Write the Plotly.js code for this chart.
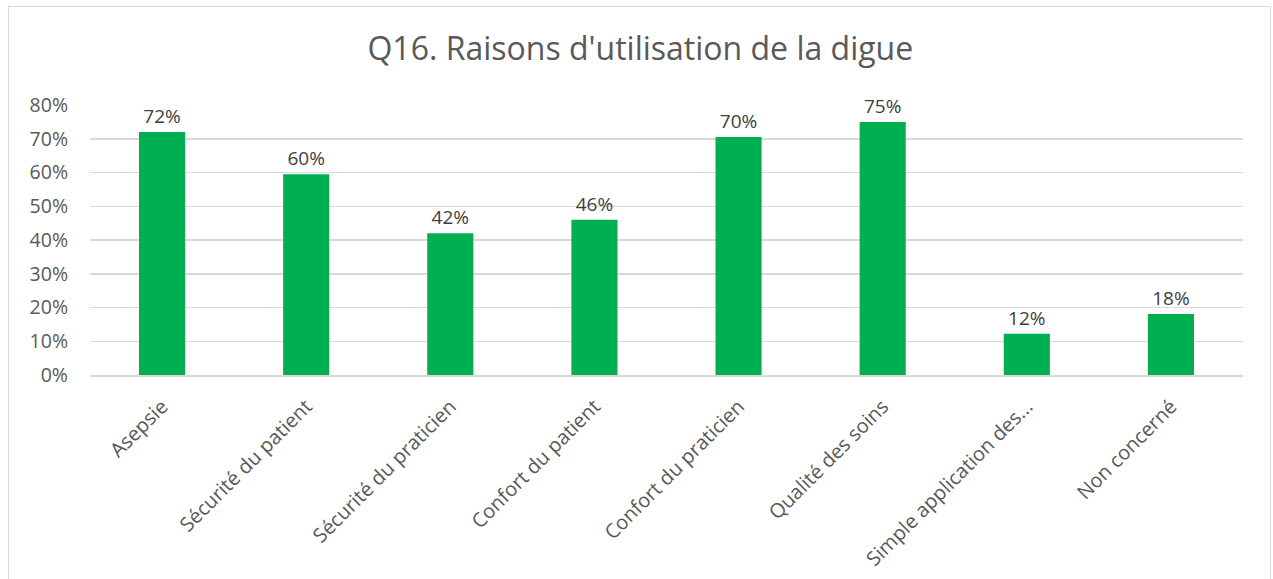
<!DOCTYPE html>
<html><head><meta charset="utf-8">
<script src="https://cdn.plot.ly/plotly-3.0.1.min.js"></script>
<style>
html,body{margin:0;padding:0;background:#fff;}
#frame{position:absolute;left:8px;top:6px;width:1263px;height:600px;border:1.5px solid #d9d9d9;box-sizing:border-box;}
#chart{position:absolute;left:0;top:0;width:1273px;height:579px;}
</style></head>
<body>
<div id="frame"></div>
<div id="chart"></div>
<script>
const categories = ["Asepsie","Sécurité du patient","Sécurité du praticien","Confort du patient","Confort du praticien","Qualité des soins","Simple application des...","Non concerné"];
const values = [0.72,0.595,0.42,0.46,0.705,0.75,0.122,0.181];
const labels = ["72%","60%","42%","46%","70%","75%","12%","18%"];
const tickVals = [0,0.1,0.2,0.3,0.4,0.5,0.6,0.7,0.8];
const tickText = ["0%","10%","20%","30%","40%","50%","60%","70%","80%"];

const font = "Open Sans, sans-serif";
Plotly.newPlot('chart',[{
  type:'bar', x:categories, y:values, text:labels,
  textposition:'outside', textfont:{family:font,size:19,color:'#404040'},
  cliponaxis:false,
  marker:{color:'#00b050'}, width:0.32, hoverinfo:'none'
}],{
  width:1273,height:579,
  paper_bgcolor:'rgba(0,0,0,0)',plot_bgcolor:'rgba(0,0,0,0)',
  margin:{l:90,r:30,t:105,b:204},
  title:{text:"Q16. Raisons d'utilisation de la digue",x:0.503,xanchor:'center',y:0.915,yanchor:'middle',font:{family:font,size:32,color:'#595959'}},
  xaxis:{tickangle:-45,tickfont:{family:font,size:20,color:'#595959'},showline:true,linecolor:'#d9d9d9',linewidth:2,ticks:'',showgrid:false,fixedrange:true,ticklabelstandoff:10},
  yaxis:{range:[0,0.8],tickvals:tickVals,ticktext:tickText,tickfont:{family:font,size:19.5,color:'#595959'},gridcolor:'#d9d9d9',gridwidth:1.5,zeroline:false,ticks:'',ticklen:0,fixedrange:true,ticklabelstandoff:21},
  showlegend:false
},{displayModeBar:false,staticPlot:true});
</script>
</body></html>
